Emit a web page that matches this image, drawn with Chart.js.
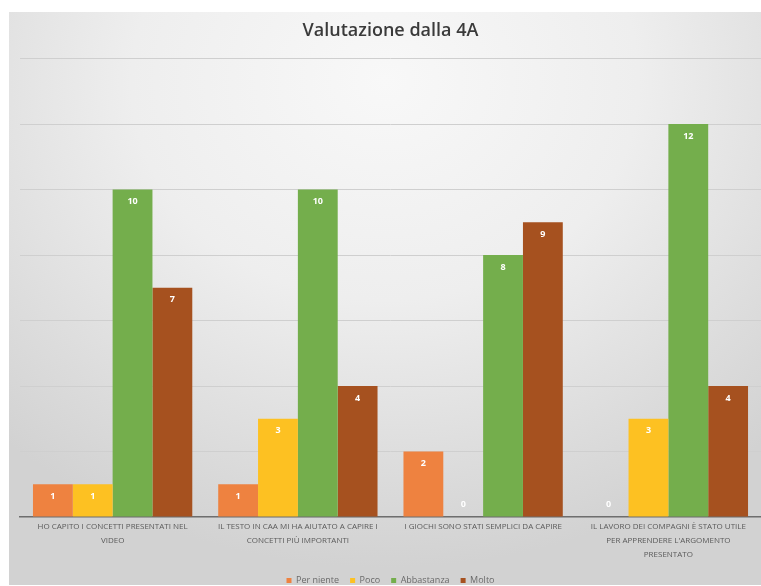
<!doctype html>
<html>
<head>
<meta charset="utf-8">
<title>Valutazione dalla 4A</title>
<script src="https://cdn.jsdelivr.net/npm/chart.js"></script>
<style>
  html, body { margin: 0; padding: 0; background: #ffffff; }
  body { width: 761px; height: 586px; position: relative; overflow: hidden; }
  .frame {
    position: absolute; left: 9px; top: 12px; width: 752px; height: 573px;
    background: radial-gradient(ellipse 75% 85% at 50% 12%, #f8f8f8 0%, #eeeeee 45%, #dcdcdc 80%, #d2d2d2 100%);
  }
  canvas { display: block; }
</style>
</head>
<body>
<div class="frame"><canvas id="chart" width="752" height="573"></canvas></div>
<script>
const categories = [
  ["HO CAPITO I CONCETTI PRESENTATI NEL", "VIDEO"],
  ["IL TESTO IN CAA MI HA AIUTATO A CAPIRE I", "CONCETTI PIÙ IMPORTANTI"],
  ["I GIOCHI SONO STATI SEMPLICI DA CAPIRE"],
  ["IL LAVORO DEI COMPAGNI È STATO UTILE", "PER APPRENDERE L'ARGOMENTO", "PRESENTATO"]
];
const perNiente = [1, 1, 2, 0];
const poco = [1, 3, 0, 3];
const abbastanza = [10, 10, 8, 12];
const molto = [7, 4, 9, 4];

// white value labels just inside the top of each bar (short bars keep a minimum height)
const barValues = {
  id: 'barValues',
  afterDatasetsDraw(chart) {
    const ctx = chart.ctx;
    ctx.save();
    ctx.font = 'bold 9px "Open Sans", sans-serif';
    ctx.fillStyle = '#ffffff';
    ctx.textAlign = 'center';
    ctx.textBaseline = 'middle';
    chart.data.datasets.forEach((ds, i) => {
      chart.getDatasetMeta(i).data.forEach((bar, j) => {
        const y = Math.min(bar.y, bar.base - 25) + 12;
        ctx.fillText(String(ds.data[j]), bar.x, y);
      });
    });
    ctx.restore();
  }
};

new Chart(document.getElementById('chart'), {
  type: 'bar',
  data: {
    labels: categories,
    datasets: [
      { label: 'Per niente', data: perNiente, backgroundColor: '#ee8240' },
      { label: 'Poco', data: poco, backgroundColor: '#fdc122' },
      { label: 'Abbastanza', data: abbastanza, backgroundColor: '#74ae4c' },
      { label: 'Molto', data: molto, backgroundColor: '#a6511f' }
    ]
  },
  options: {
    responsive: false,
    animation: false,
    layout: { padding: { left: 11, right: 0, top: 6, bottom: -10 } },
    datasets: { bar: { categoryPercentage: 0.86, barPercentage: 1.0 } },
    scales: {
      x: {
        grid: { display: false, drawTicks: false },
        border: { display: true, color: '#6e6e6e', width: 1.5 },
        ticks: {
          color: '#5a5a5a', maxRotation: 0, autoSkip: false, padding: 3,
          font: { family: '"Open Sans", sans-serif', size: 8, lineHeight: 1.75 }
        }
      },
      y: {
        min: 0, max: 14,
        ticks: { display: false, stepSize: 2 },
        grid: { color: '#cfcfcf', drawTicks: false },
        border: { display: false }
      }
    },
    plugins: {
      title: {
        display: true, text: 'Valutazione dalla 4A', color: '#3a3a3a',
        font: { family: '"Open Sans", sans-serif', size: 18, weight: '600' },
        padding: { top: 2, bottom: 17 }
      },
      legend: {
        position: 'bottom',
        labels: {
          color: '#6a6a6a', boxWidth: 5, boxHeight: 5, padding: 11,
          font: { family: '"Open Sans", sans-serif', size: 9 }
        }
      },
      tooltip: { enabled: false }
    }
  },
  plugins: [barValues]
});
</script>
</body>
</html>
